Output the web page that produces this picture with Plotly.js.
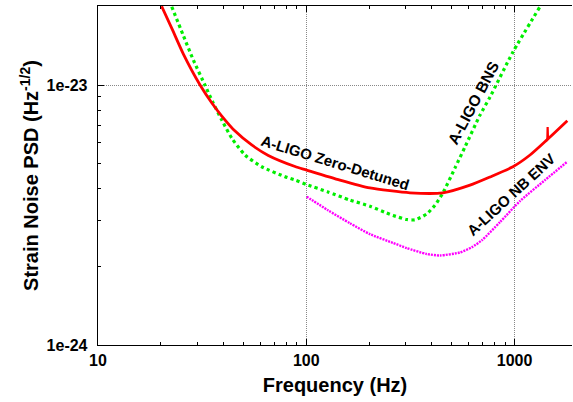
<!DOCTYPE html>
<html>
<head>
<meta charset="utf-8">
<script src="https://cdn.plot.ly/plotly-3.0.1.min.js"></script>
<style>html,body{margin:0;padding:0;background:#fff;}#chart{width:573px;height:402px;}</style>
</head>
<body>
<div id="chart"></div>
<script>
// A-LIGO Zero-Detuned (red)
var zdFreq = [20.2, 22.7, 25.7, 30.9, 35.2, 39.3, 45.5, 54.7, 65.7, 88.3, 100.4, 145, 202, 314.6, 453, 611, 762, 982, 1186, 1426, 1791];
var zdPSD  = [2.01e-23, 1.64e-23, 1.315e-23, 1.0e-23, 8.53e-24, 7.60e-24, 6.65e-24, 5.88e-24, 5.36e-24, 4.86e-24, 4.71e-24, 4.31e-24, 4.02e-24, 3.85e-24, 3.85e-24, 4.12e-24, 4.43e-24, 4.85e-24, 5.38e-24, 6.14e-24, 7.29e-24];
// narrow resonance line on the Zero-Detuned curve
var zdLineFreq = [1436, 1441, 1446];
var zdLinePSD  = [6.17e-24, 6.9e-24, 6.25e-24];
// A-LIGO BNS (green)
var bnsFreq = [22.6, 25.6, 28.7, 32.6, 35.8, 39.3, 43.9, 50.8, 61.1, 79.0, 88.3, 100.4, 127, 162, 202, 243, 261, 303, 332.5, 378, 414.8, 453, 517.6, 578, 682, 762, 982, 1324];
var bnsPSD  = [2.0e-23, 1.56e-23, 1.247e-23, 1.0e-23, 8.5e-24, 7.33e-24, 6.24e-24, 5.38e-24, 4.85e-24, 4.44e-24, 4.31e-24, 4.14e-24, 3.88e-24, 3.61e-24, 3.42e-24, 3.22e-24, 3.15e-24, 3.04e-24, 3.03e-24, 3.19e-24, 3.45e-24, 3.85e-24, 4.80e-24, 5.78e-24, 7.66e-24, 8.99e-24, 1.34e-23, 2.0e-23];
// A-LIGO NB ENV (magenta)
var nbFreq = [100.4, 127, 162, 202, 261, 303, 378, 438, 547, 624.5, 697, 851, 1062, 1400, 1795];
var nbPSD  = [3.72e-24, 3.30e-24, 2.94e-24, 2.67e-24, 2.47e-24, 2.36e-24, 2.24e-24, 2.21e-24, 2.27e-24, 2.38e-24, 2.53e-24, 2.97e-24, 3.58e-24, 4.31e-24, 5.08e-24];

var xMajor = [10, 100, 1000];
var xMajorText = ['10', '100', '1000'];
var xMinor = [20,30,40,50,60,70,80,90,200,300,400,500,600,700,800,900,2000];
var yMajor = [1e-24, 1e-23];
var yMajorText = ['1e-24', '1e-23'];
var yMinor = [2e-24,3e-24,4e-24,5e-24,6e-24,7e-24,8e-24,9e-24,2e-23];

var labels = ['A-LIGO Zero-Detuned', 'A-LIGO BNS', 'A-LIGO NB ENV'];

var traces = [
  {x: bnsFreq, y: bnsPSD, mode: 'lines', line: {color: '#00ee00', width: 3.2, dash: 'dot', shape: 'spline', smoothing: 0.6}},
  {x: nbFreq, y: nbPSD, mode: 'lines', line: {color: '#ff00ff', width: 2.4, dash: '2px,1px', shape: 'spline', smoothing: 0.6}},
  {x: zdFreq, y: zdPSD, mode: 'lines', line: {color: '#ff0000', width: 2.8, shape: 'spline', smoothing: 0.6}},
  {x: zdLineFreq, y: zdLinePSD, mode: 'lines', line: {color: '#ff0000', width: 2.2}}
];

var fontFam = '"Liberation Sans", Arial, Helvetica, sans-serif';
var layout = {
  width: 573, height: 402,
  margin: {l: 98, r: 1, t: 6, b: 57},
  paper_bgcolor: '#fff', plot_bgcolor: '#fff',
  showlegend: false,
  font: {family: fontFam, color: '#000'},
  xaxis: {
    type: 'log', range: [1, 3.2756], autorange: false,
    tickmode: 'array', tickvals: xMajor, ticktext: xMajorText,
    ticks: 'inside', ticklen: 6, tickwidth: 1, tickcolor: '#000',
    showline: true, linecolor: '#000', linewidth: 1.3, mirror: 'ticks',
    showgrid: true, gridcolor: '#888', griddash: '1px,1px', gridwidth: 1,
    zeroline: false,
    tickfont: {family: fontFam, size: 16, weight: 'bold', color: '#000'},
    minor: {tickmode: 'array', tickvals: xMinor, ticks: 'inside', ticklen: 3, tickcolor: '#000', showgrid: false},
    title: {text: 'Frequency (Hz)', font: {family: fontFam, size: 20, weight: 'bold', color: '#000'}, standoff: 10}
  },
  yaxis: {
    type: 'log', range: [-24, -22.696], autorange: false,
    tickmode: 'array', tickvals: yMajor, ticktext: yMajorText,
    ticks: 'inside', ticklen: 6, tickwidth: 1, tickcolor: '#000',
    showline: true, linecolor: '#000', linewidth: 1.3, mirror: false,
    showgrid: true, gridcolor: '#888', griddash: '1px,1px', gridwidth: 1,
    zeroline: false,
    ticklabelstandoff: 6,
    tickfont: {family: fontFam, size: 16, weight: 'bold', color: '#000'},
    minor: {tickmode: 'array', tickvals: yMinor, ticks: 'inside', ticklen: 3, tickcolor: '#000', showgrid: false},
    title: {text: 'Strain Noise PSD (Hz<sup>-1/2</sup>)', font: {family: fontFam, size: 20, weight: 'bold', color: '#000'}, standoff: 2}
  },
  annotations: [
    {xref: 'paper', yref: 'paper', x: 0.5, y: 0.537, xanchor: 'center', yanchor: 'middle', text: labels[0], showarrow: false, textangle: 17,
     font: {family: fontFam, size: 15, weight: 'bold', color: '#000'}},
    {xref: 'paper', yref: 'paper', x: 0.793, y: 0.714, xanchor: 'center', yanchor: 'middle', text: labels[1], showarrow: false, textangle: -62,
     font: {family: fontFam, size: 15.5, weight: 'bold', color: '#000'}},
    {xref: 'paper', yref: 'paper', x: 0.871, y: 0.445, xanchor: 'center', yanchor: 'middle', text: labels[2], showarrow: false, textangle: -42.5,
     font: {family: fontFam, size: 15, weight: 'bold', color: '#000'}}
  ]
};

Plotly.newPlot('chart', traces, layout, {displayModeBar: false, staticPlot: true});
</script>
</body>
</html>
